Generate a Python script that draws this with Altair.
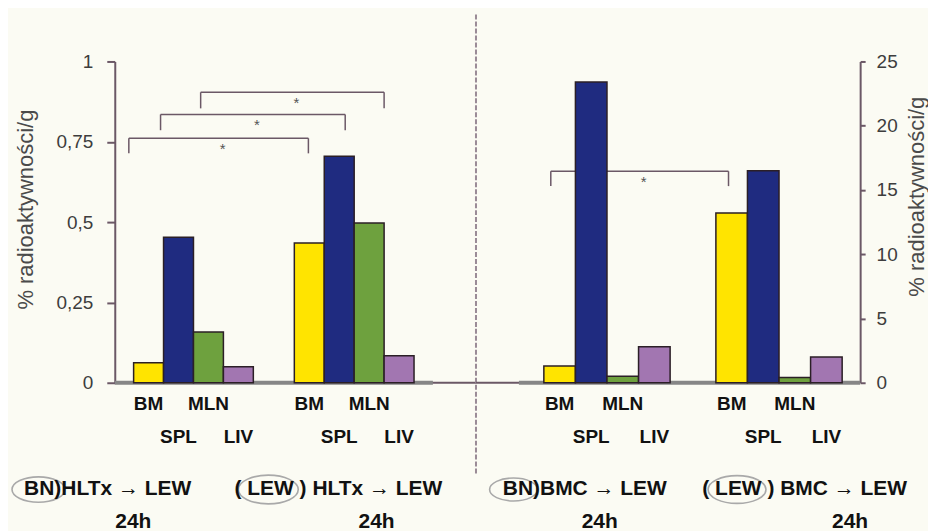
import altair as alt
import pandas as pd

# ---------------- data ----------------
organs = ["BM", "SPL", "MLN", "LIV"]
organ_colors = ["#FFE400", "#1F2B80", "#6EA13E", "#A276B1"]
label_row = [0, 1, 0, 1]          # staggered label rows under the bars

hltx_bn = [0.062, 0.453, 0.158, 0.050]
hltx_lew = [0.435, 0.705, 0.497, 0.084]
bmc_bn = [1.3, 23.4, 0.5, 2.8]
bmc_lew = [13.2, 16.5, 0.4, 2.0]

left_ticks = [0, 0.25, 0.5, 0.75, 1]
right_ticks = [0, 5, 10, 15, 20, 25]
y_title = "% radioaktywności/g"

# group placement along x (bar-width units)
left_group_start = [0.63, 6.0]
right_group_start = [2.15, 7.6]
left_x_max = 12.07
right_x_max = 12.17
left_base = [0.0, 10.63]
right_base = [1.36, 12.17]

# significance brackets
left_br_x1 = [0.47, 1.53, 2.87]
left_br_x2 = [6.47, 7.70, 9.00]
left_br_y = [0.761, 0.835, 0.904]
left_br_leg = [0.714, 0.786, 0.854]
right_br_x1 = [2.37]
right_br_x2 = [8.0]
right_br_y = [16.46]
right_br_leg = [15.3]

# group captions
left_group_text = ["BN)HLTx \u2192 LEW", "( LEW ) HLTx \u2192 LEW"]
left_group_text_x = [-3.03, 4.0]
left_ellipse_x = [-2.55, 5.13]
left_ellipse_w = [53, 60]
left_24h_x = [0.62, 8.75]
right_group_text = ["BN)BMC \u2192 LEW", "( LEW ) BMC \u2192 LEW"]
right_group_text_x = [0.85, 7.17]
right_ellipse_x = [1.19, 8.27]
right_ellipse_w = [48, 58]
right_24h_x = [3.92, 11.85]
time_label = "24h"

# ---------------- style ----------------
FONT = "Liberation Sans"
H = 322
AXIS_COL = "#6b5866"
ELLIPSE = "M-1,0A1,0.48,0,1,1,1,0A1,0.48,0,1,1,-1,0Z"


def panel(vals, starts, xmax, width, ymax, ticks, base, bx1, bx2, by, bleg,
          gtext, gtext_x, ell_x, ell_w, t24_x, orient, separator):
    xs = alt.Scale(domain=[0, xmax], nice=False, zero=False)
    ys = alt.Scale(domain=[0, ymax], nice=False)

    rows = []
    for g, v in enumerate(vals):
        for i, o in enumerate(organs):
            rows.append(dict(organ=o, x=starts[g] + i, x2=starts[g] + i + 1,
                             xc=starts[g] + i + 0.5, value=v[i], row=label_row[i]))
    bars = pd.DataFrame(rows)

    if orient == "left":
        yaxis = alt.Axis(values=ticks, orient="left", title=y_title,
                         labelExpr="replace(toString(datum.value), '.', ',')",
                         tickSize=8, labelPadding=14, titlePadding=18,
                         titleY=148, titleAngle=270, titleBaseline="bottom")
    else:
        yaxis = alt.Axis(values=ticks, orient="right", title=y_title,
                         tickSize=5, labelPadding=11, titlePadding=9,
                         titleY=135, titleAngle=270, titleBaseline="top")

    baseline_df = pd.DataFrame({"x": [0], "x2": [xmax], "y": [0]})
    band_df = pd.DataFrame({"x": [base[0]], "x2": [base[1]], "y": [0]})
    br = pd.DataFrame({"x1": bx1, "x2": bx2, "y": by, "leg": bleg})
    br["sx"] = (br["x1"] + br["x2"]) / 2
    br["sy"] = (br["y"] + br["leg"]) / 2
    legs = pd.concat([
        pd.DataFrame({"x": br["x1"], "y": br["y"], "leg": br["leg"]}),
        pd.DataFrame({"x": br["x2"], "y": br["y"], "leg": br["leg"]}),
    ])
    cap = pd.DataFrame({"t": gtext, "x": gtext_x, "ex": ell_x,
                        "es": [w * w for w in ell_w], "hx": t24_x,
                        "h": [time_label] * len(gtext)})

    X = lambda f: alt.X(f, scale=xs, axis=None)
    Y = lambda f: alt.Y(f, scale=ys, axis=yaxis)

    layers = []
    # bracket lines (behind bars)
    layers.append(alt.Chart(br).mark_rule(color=AXIS_COL, strokeWidth=1.5).encode(
        x=X("x1:Q"), x2="x2:Q", y=Y("y:Q")))
    layers.append(alt.Chart(legs).mark_rule(color=AXIS_COL, strokeWidth=1.5).encode(
        x=X("x:Q"), y=Y("y:Q"), y2="leg:Q"))
    layers.append(alt.Chart(br).mark_text(text="*", fontSize=15, color="#555555",
                                          font=FONT, dx=4, dy=3).encode(
        x=X("sx:Q"), y=Y("sy:Q")))
    # baseline
    layers.append(alt.Chart(baseline_df).mark_rule(color=AXIS_COL, strokeWidth=2).encode(
        x=X("x:Q"), x2="x2:Q", y=Y("y:Q")))
    layers.append(alt.Chart(band_df).mark_rule(color="#868686", strokeWidth=4).encode(
        x=X("x:Q"), x2="x2:Q", y=Y("y:Q")))
    # bars
    layers.append(alt.Chart(bars).mark_bar(stroke="#2b1f26", strokeWidth=1.5).encode(
        x=X("x:Q"), x2="x2:Q",
        y=Y("value:Q"), y2=alt.datum(0),
        color=alt.Color("organ:N", scale=alt.Scale(domain=organs, range=organ_colors),
                        legend=None)))
    # organ labels, two staggered rows
    for r, off in [(0, 21), (1, 54)]:
        layers.append(alt.Chart(bars).transform_filter(alt.datum.row == r).mark_text(
            fontSize=19, fontWeight="bold", font=FONT, color="#111111",
            baseline="middle").encode(x=X("xc:Q"), y=alt.value(H + off), text="organ:N"))
    # group captions
    layers.append(alt.Chart(cap).mark_point(shape=ELLIPSE, filled=False,
                                            color="#a9a9a9", strokeWidth=1.6, opacity=1).encode(
        x=X("ex:Q"), y=alt.value(H + 107), size=alt.Size("es:Q", scale=None)))
    layers.append(alt.Chart(cap).mark_text(
        fontSize=21, fontWeight="bold", font=FONT, color="#111111",
        align="left", baseline="middle").encode(x=X("x:Q"), y=alt.value(H + 106), text="t:N"))
    layers.append(alt.Chart(cap).mark_text(
        fontSize=21, fontWeight="bold", font=FONT, color="#111111",
        align="center", baseline="middle").encode(x=X("hx:Q"), y=alt.value(H + 140), text="h:N"))
    if separator:
        layers.append(alt.Chart(baseline_df).mark_rule(
            color="#9a8b96", strokeWidth=2, strokeDash=[5, 2]).encode(
            x=alt.value(width), y=alt.value(-47), y2=alt.value(415)))

    return alt.layer(*layers).properties(width=width, height=H)


left = panel([hltx_bn, hltx_lew], left_group_start, left_x_max, 362, 1, left_ticks,
             left_base, left_br_x1, left_br_x2, left_br_y, left_br_leg,
             left_group_text, left_group_text_x, left_ellipse_x, left_ellipse_w,
             left_24h_x, "left", True)
right = panel([bmc_bn, bmc_lew], right_group_start, right_x_max, 385, 25, right_ticks,
              right_base, right_br_x1, right_br_x2, right_br_y, right_br_leg,
              right_group_text, right_group_text_x, right_ellipse_x, right_ellipse_w,
              right_24h_x, "right", False)

chart = alt.hconcat(left, right, spacing=0, bounds="flush").configure(
    background="#FBFBF3",
    padding={"left": 0, "top": 5, "right": 0, "bottom": 0},
).configure_view(stroke=None).configure_axis(
    domainColor=AXIS_COL, domainWidth=2, tickColor=AXIS_COL, tickWidth=2,
    labelFont=FONT, labelFontSize=19, labelColor="#3d3d3d",
    titleFont=FONT, titleFontSize=22, titleFontWeight="normal", titleColor="#4a4a4a",
    grid=False,
)

chart.save("out.html", embed_options={"renderer": "svg", "actions": False})
